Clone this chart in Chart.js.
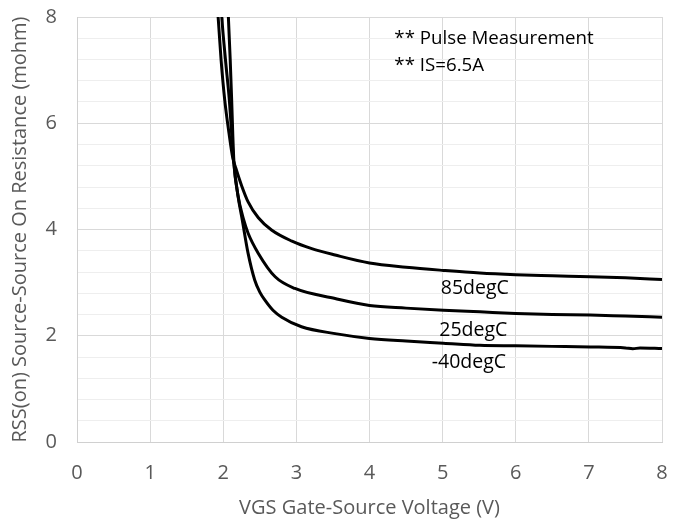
<!DOCTYPE html>
<html>
<head>
<meta charset="utf-8">
<script src="https://cdn.jsdelivr.net/npm/chart.js@4.4.1/dist/chart.umd.min.js"></script>
<style>
  html, body { margin: 0; padding: 0; background: #ffffff; }
  #wrap { width: 681px; height: 520px; }
</style>
</head>
<body>
<div id="wrap"><canvas id="c" width="681" height="520"></canvas></div>
<script>
// RSS(on) vs VGS at three temperatures (pulse measurement, IS = 6.5 A)
const vgs85 = [1.90, 1.93, 1.97, 2.02, 2.08, 2.13, 2.18, 2.25, 2.34, 2.48, 2.66, 2.94, 3.21, 3.53, 4.00, 4.50, 5.01, 5.51, 6.00, 6.50, 7.02, 7.50, 8.00];
const rss85 = [8.50, 8.00, 7.20, 6.44, 5.80, 5.35, 5.12, 4.83, 4.52, 4.22, 3.99, 3.78, 3.64, 3.52, 3.37, 3.29, 3.23, 3.18, 3.15, 3.13, 3.11, 3.09, 3.06];

const vgs25 = [1.96, 1.98, 2.03, 2.083, 2.115, 2.14, 2.20, 2.28, 2.34, 2.48, 2.71, 2.98, 3.53, 4.00, 4.50, 5.01, 5.51, 6.00, 6.50, 7.02, 7.50, 8.00];
const rss25 = [8.50, 8.00, 7.20, 6.44, 5.80, 5.30, 4.65, 4.18, 3.93, 3.55, 3.11, 2.89, 2.70, 2.57, 2.52, 2.48, 2.45, 2.42, 2.40, 2.39, 2.37, 2.35];

const vgsM40 = [2.05, 2.07, 2.095, 2.115, 2.13, 2.145, 2.20, 2.26, 2.34, 2.43, 2.50, 2.57, 2.68, 2.80, 3.07, 3.53, 4.00, 4.50, 5.01, 5.51, 6.00, 6.50, 7.02, 7.50, 7.60, 7.70, 8.00];
const rssM40 = [8.50, 8.00, 7.20, 6.44, 5.80, 5.30, 4.65, 4.18, 3.55, 3.05, 2.82, 2.67, 2.48, 2.35, 2.17, 2.04, 1.95, 1.90, 1.86, 1.82, 1.81, 1.80, 1.79, 1.77, 1.755, 1.77, 1.76];

const seriesNames = ['85degC', '25degC', '-40degC'];
const xTicks = [0, 1, 2, 3, 4, 5, 6, 7, 8];
const yTickLabels = [0, 2, 4, 6, 8];
const noteLines = ['** Pulse Measurement', '** IS=6.5A'];

const FONT = '"Open Sans", Lato, sans-serif';

function pts(xs, ys) { return xs.map((x, i) => ({ x: x, y: ys[i] })); }

// curve labels placed in data space next to each trace
const curveLabels = [
  { text: seriesNames[0], x: 5.44, y: 2.90 },
  { text: seriesNames[1], x: 5.42, y: 2.10 },
  { text: seriesNames[2], x: 5.36, y: 1.50 }
];

const textPlugin = {
  id: 'chartText',
  afterDatasetsDraw(chart) {
    const ctx = chart.ctx;
    const xs = chart.scales.x, ys = chart.scales.y;
    ctx.save();
    ctx.fillStyle = '#000000';
    ctx.font = '19.5px ' + FONT;
    ctx.textAlign = 'center';
    ctx.textBaseline = 'middle';
    curveLabels.forEach(l => ctx.fillText(l.text, xs.getPixelForValue(l.x), ys.getPixelForValue(l.y)));
    ctx.font = '18.7px ' + FONT;
    ctx.textAlign = 'left';
    ctx.fillText(noteLines[0], xs.getPixelForValue(4.34), ys.getPixelForValue(7.60));
    ctx.fillText(noteLines[1], xs.getPixelForValue(4.34), ys.getPixelForValue(7.08));
    ctx.restore();
  }
};

const lineStyle = { borderColor: '#000000', borderWidth: 3, pointRadius: 0, showLine: true, cubicInterpolationMode: 'monotone', clip: 0 };

function noScalePadding(s) {
  s.paddingTop = 0; s.paddingBottom = 0; s.paddingLeft = 0; s.paddingRight = 0;
}

new Chart(document.getElementById('c'), {
  type: 'scatter',
  data: {
    datasets: [
      Object.assign({ label: seriesNames[0], data: pts(vgs85, rss85) }, lineStyle),
      Object.assign({ label: seriesNames[1], data: pts(vgs25, rss25) }, lineStyle),
      Object.assign({ label: seriesNames[2], data: pts(vgsM40, rssM40) }, lineStyle)
    ]
  },
  options: {
    responsive: false,
    animation: false,
    layout: { padding: { top: 17, right: 19, left: 0, bottom: 0 } },
    plugins: { legend: { display: false }, tooltip: { enabled: false } },
    scales: {
      x: {
        type: 'linear', min: 0, max: 8,
        afterBuildTicks(s) { s.ticks = xTicks.map(v => ({ value: v })); },
        afterFit(s) { s.height = 78; noScalePadding(s); },
        ticks: { color: '#595959', font: { family: FONT, size: 20 }, padding: 19, autoSkip: false, maxRotation: 0 },
        grid: { color: '#d9d9d9', lineWidth: 1, drawTicks: false },
        border: { color: '#d0d0d0' },
        title: { display: true, text: 'VGS Gate-Source Voltage (V)', color: '#595959', font: { family: FONT, size: 20 }, padding: { top: 4, bottom: 0 } }
      },
      y: {
        type: 'linear', min: 0, max: 8,
        afterBuildTicks(s) {
          const t = [];
          for (let i = 0; i <= 20; i++) t.push({ value: Math.round(i * 0.4 * 10) / 10 });
          s.ticks = t;
        },
        afterFit(s) { s.width = 77; noScalePadding(s); },
        ticks: {
          color: '#595959', font: { family: FONT, size: 20 }, padding: 20, autoSkip: false,
          callback(v) { return yTickLabels.includes(v) ? String(v) : ''; }
        },
        grid: {
          drawTicks: false,
          color(c) { return yTickLabels.includes(c.tick.value) ? '#d9d9d9' : '#eeeeee'; }
        },
        border: { color: '#d0d0d0' },
        title: { display: true, text: 'RSS(on) Source-Source On Resistance (mohm)', color: '#595959', font: { family: FONT, size: 20 }, padding: { bottom: 0, top: 8 } }
      }
    }
  },
  plugins: [textPlugin]
});
</script>
</body>
</html>
